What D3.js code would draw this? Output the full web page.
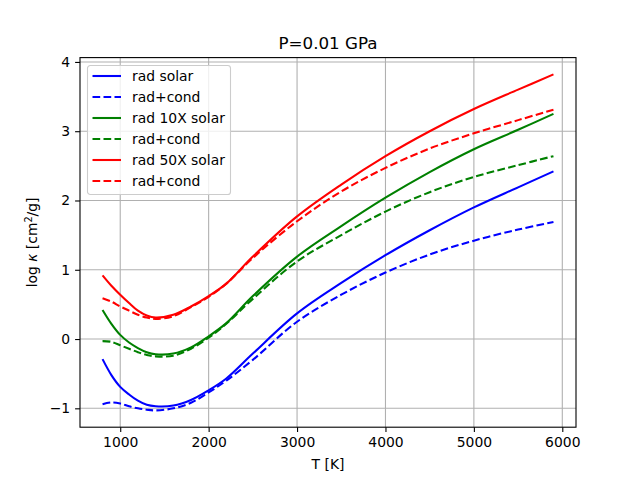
<!DOCTYPE html>
<html>
<head>
<meta charset="utf-8">
<script src="https://cdn.jsdelivr.net/npm/d3@7"></script>
<style>
  body { margin: 0; background: #fff; }
  text { font-family: "DejaVu Sans", sans-serif; }
</style>
</head>
<body>
<div class="canva"></div>
<script>
// temperatures (K) sampled along the curves
const temps = [800, 900, 1000, 1100, 1200, 1300, 1400, 1600, 1800, 2000, 2200, 2500, 3000, 3500, 4000, 4500, 5000, 5500, 5900];

// log kappa values
const radSolar  = [-0.29, -0.52, -0.69, -0.80, -0.89, -0.95, -0.97, -0.96, -0.88, -0.74, -0.57, -0.21, 0.37, 0.81, 1.21, 1.57, 1.90, 2.19, 2.42];
const condSolar = [-0.94, -0.915, -0.93, -0.97, -1.00, -1.02, -1.03, -1.00, -0.92, -0.77, -0.60, -0.30, 0.25, 0.64, 0.96, 1.22, 1.42, 1.58, 1.69];
const rad10     = [0.42, 0.22, 0.06, -0.05, -0.13, -0.19, -0.22, -0.21, -0.12, 0.04, 0.23, 0.62, 1.19, 1.63, 2.04, 2.41, 2.74, 3.02, 3.25];
const cond10    = [-0.03, -0.04, -0.09, -0.14, -0.19, -0.23, -0.25, -0.24, -0.14, 0.02, 0.22, 0.58, 1.12, 1.50, 1.84, 2.12, 2.34, 2.51, 2.64];
const rad50     = [0.92, 0.77, 0.64, 0.52, 0.41, 0.34, 0.31, 0.35, 0.47, 0.62, 0.80, 1.19, 1.77, 2.23, 2.64, 3.00, 3.32, 3.60, 3.82];
const cond50    = [0.59, 0.54, 0.47, 0.41, 0.35, 0.31, 0.29, 0.33, 0.46, 0.61, 0.80, 1.17, 1.70, 2.13, 2.47, 2.75, 2.97, 3.16, 3.31];

const seriesNames = ["rad solar", "rad+cond", "rad 10X solar", "rad+cond", "rad 50X solar", "rad+cond"];
const seriesVals = [radSolar, condSolar, rad10, cond10, rad50, cond50];
const seriesColors = ["blue", "blue", "green", "green", "red", "red"];
const seriesDashed = [false, true, false, true, false, true];

const xTicks = [1000, 2000, 3000, 4000, 5000, 6000];
const yTicks = [-1, 0, 1, 2, 3, 4];

const width = 640, height = 480;
const margin = {top: 57.6, right: 64, bottom: 52.8, left: 80};

const svg = d3.select(".canva").append("svg")
    .attr("width", width)
    .attr("height", height);

// matplotlib style 5% padding around the data
const xExt = d3.extent(temps);
const xPad = (xExt[1] - xExt[0]) * 0.05;
const allVals = seriesVals.flat();
const yExt = d3.extent(allVals);
const yPad = (yExt[1] - yExt[0]) * 0.05;

const x = d3.scaleLinear()
    .domain([xExt[0] - xPad, xExt[1] + xPad])
    .range([margin.left, width - margin.right]);
const y = d3.scaleLinear()
    .domain([yExt[0] - yPad, yExt[1] + yPad])
    .range([height - margin.bottom, margin.top]);

// grid
svg.append("g")
   .selectAll("line.gx")
   .data(xTicks)
   .enter().append("line")
   .attr("x1", d => x(d)).attr("x2", d => x(d))
   .attr("y1", margin.top).attr("y2", height - margin.bottom)
   .attr("stroke", "#b0b0b0").attr("stroke-width", 1.1);
svg.append("g")
   .selectAll("line.gy")
   .data(yTicks)
   .enter().append("line")
   .attr("y1", d => y(d)).attr("y2", d => y(d))
   .attr("x1", margin.left).attr("x2", width - margin.right)
   .attr("stroke", "#b0b0b0").attr("stroke-width", 1.1);

// curves
const line = d3.line()
    .x((d, i) => x(temps[i]))
    .y(d => y(d))
    .curve(d3.curveCatmullRom.alpha(0.5));

svg.append("g")
   .selectAll("path")
   .data(seriesVals)
   .enter().append("path")
   .attr("fill", "none")
   .attr("stroke", (d, i) => seriesColors[i])
   .attr("stroke-width", 2.08)
   .attr("stroke-dasharray", (d, i) => seriesDashed[i] ? "7.7,3.3" : null)
   .attr("d", line);

// axes
const fmt = d => d3.format("d")(d).replace("-", "\u2212");

const xAxis = svg.append("g")
    .attr("transform", `translate(0,${height - margin.bottom})`)
    .call(d3.axisBottom(x).tickValues(xTicks).tickSize(4.9).tickPadding(4.9).tickFormat(d3.format("d")));
const yAxis = svg.append("g")
    .attr("transform", `translate(${margin.left},0)`)
    .call(d3.axisLeft(y).tickValues(yTicks).tickSize(4.9).tickPadding(4.9).tickFormat(fmt));

[xAxis, yAxis].forEach(a => {
  a.select(".domain").remove();
  a.selectAll("line").attr("stroke", "#000").attr("stroke-width", 1.1);
  a.selectAll("text").attr("font-family", "DejaVu Sans").attr("font-size", 13.9).attr("fill", "#000");
});

// frame
svg.append("rect")
   .attr("x", margin.left).attr("y", margin.top)
   .attr("width", width - margin.left - margin.right)
   .attr("height", height - margin.top - margin.bottom)
   .attr("fill", "none").attr("stroke", "#000").attr("stroke-width", 1.1);

// title and labels
svg.append("text")
   .attr("x", (margin.left + width - margin.right) / 2)
   .attr("y", 49)
   .attr("text-anchor", "middle")
   .attr("font-size", 16.7)
   .text("P=0.01 GPa");

svg.append("text")
   .attr("x", (margin.left + width - margin.right) / 2)
   .attr("y", 469)
   .attr("text-anchor", "middle")
   .attr("font-size", 13.9)
   .text("T [K]");

const yl = svg.append("text")
   .attr("transform", `translate(37,${(margin.top + height - margin.bottom) / 2}) rotate(-90)`)
   .attr("text-anchor", "middle")
   .attr("font-size", 13.9);
yl.append("tspan").text("log ");
yl.append("tspan").attr("font-style", "italic").text("\u03ba");
yl.append("tspan").text(" [cm");
yl.append("tspan").attr("font-size", 9.7).attr("dy", -5).text("2");
yl.append("tspan").attr("dy", 5).text("/g]");

// legend
const lg = svg.append("g").attr("transform", "translate(87.5,65.5)");
lg.append("rect")
  .attr("width", 143).attr("height", 129)
  .attr("rx", 2.8)
  .attr("fill", "#fff").attr("fill-opacity", 0.8)
  .attr("stroke", "#cccccc").attr("stroke-width", 1.1);

const rows = lg.selectAll("g.row")
  .data(seriesNames)
  .enter().append("g")
  .attr("transform", (d, i) => `translate(0,${10.5 + i * 21})`);
rows.append("line")
  .attr("x1", 5).attr("x2", 33.5)
  .attr("stroke", (d, i) => seriesColors[i])
  .attr("stroke-width", 2.08)
  .attr("stroke-dasharray", (d, i) => seriesDashed[i] ? "7.7,3.3" : null);
rows.append("text")
  .attr("x", 44.5)
  .attr("y", 4.9)
  .attr("font-size", 13.9)
  .text(d => d);
</script>
</body>
</html>
